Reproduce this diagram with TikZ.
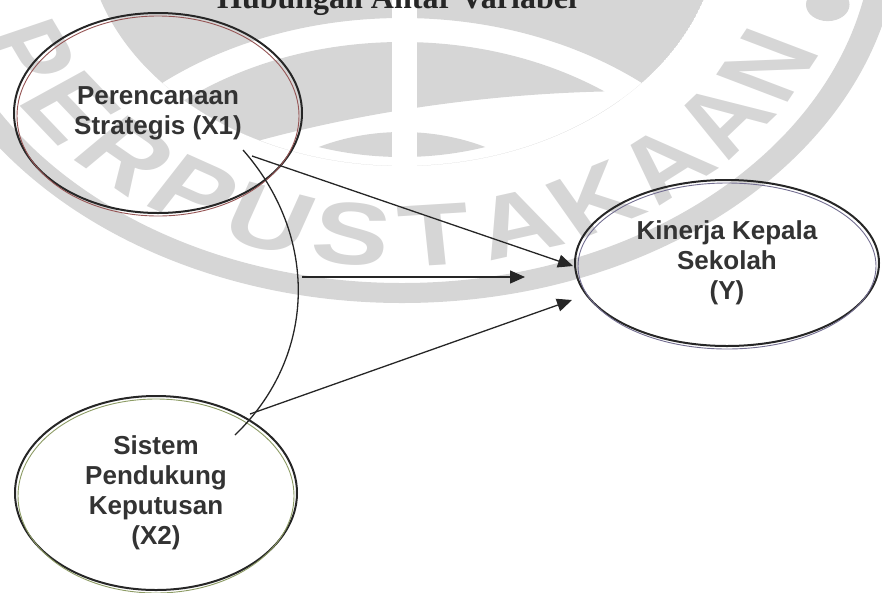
\documentclass[tikz,border=0pt]{standalone}
\usepackage{fontspec}
\setmainfont{Liberation Serif}
\newfontfamily\arialf{Liberation Sans}
\usetikzlibrary{arrows.meta,shapes.geometric}
\definecolor{wm}{RGB}{214,214,214}
\definecolor{ink}{RGB}{38,38,38}
\definecolor{txt}{RGB}{51,51,51}
\definecolor{xonec}{RGB}{150,85,85}
\definecolor{ycol}{RGB}{115,110,145}
\definecolor{xtwoc}{RGB}{140,155,100}
\begin{document}
\begin{tikzpicture}[x=1pt,y=-1pt,
  varell/.style={ellipse, draw=ink, line width=2pt, inner sep=0pt, align=center,
    font=\arialf\bfseries\fontsize{26}{30}\selectfont, text=txt},
  innerring/.style={line width=0.9pt},
  conn/.style={draw=ink, line width=1.3pt, -{Triangle[length=15pt,width=13pt]}},
  link/.style={draw=ink, line width=1.3pt},
  wmletter/.style={font=\arialf\bfseries\fontsize{88}{88}\selectfont, text=wm, inner sep=0pt, transform shape},
  titlestyle/.style={font=\bfseries\fontsize{32}{36}\selectfont, text=ink, inner sep=0pt}]
\useasboundingbox (0,0) rectangle (882,592);
% ---------- watermark ----------
\begin{scope}
\clip (0,0) rectangle (882,592);
\begin{scope}[shift={(402,-74)}, xscale=1.32]
  \fill[wm, even odd rule] (0,0) circle (377) (0,0) circle (357);
  \begin{scope}
    \clip (0,0) circle (240);
    \fill[wm, even odd rule] (0,0) circle (240) (0,378.5) circle (286.5);
    \begin{scope}
      \clip (0,378.5) circle (262.5);
      \fill[wm, even odd rule] (0,0) circle (240) (181.5,1033) circle (868);
    \end{scope}
    \begin{scope}
      \clip (0,345.8) circle (139.8);
      \fill[wm] (0,27.5) circle (203.5);
    \end{scope}
  \end{scope}
  \foreach \ch/\ang [count=\i] in {P/155.8,E/144.1,R/132.3,P/120.6,U/108.8,S/97.1,T/85.4,A/73.6,K/61.9,A/50.2,A/38.4,N/26.7}
    \node[wmletter, rotate=90-\ang] (wm\i) at (\ang:310) {\ch};
  \fill[wm] (13.7:332) circle (16.5);
\end{scope}
\fill[white] (392,-5) rectangle (417,168);
\end{scope}
% ---------- title ----------
\node[titlestyle, anchor=base] (title) at (397,8) {Hubungan Antar Variabel};
% ---------- variables ----------
\node[varell, minimum width=288pt, minimum height=200pt] (x1) at (158,113) {Perencanaan\\Strategis (X1)};
\draw[xonec, innerring] (158,116) ellipse [x radius=141, y radius=100];
\node[varell, minimum width=304pt, minimum height=166pt] (y) at (727,263) {Kinerja Kepala\\Sekolah\\(Y)};
\draw[ycol, innerring] (727,266) ellipse [x radius=149, y radius=83];
\node[varell, minimum width=282pt, minimum height=194pt] (x2) at (156,493) {Sistem\\Pendukung\\Keputusan\\(X2)};
\draw[xtwoc, innerring] (156,496) ellipse [x radius=138, y radius=97];
% ---------- connectors ----------
\coordinate (s1) at (252,156);
\coordinate (e1) at (573,266);
\coordinate (s2) at (302,277);
\coordinate (e2) at (525,277);
\coordinate (s3) at (250,414);
\coordinate (e3) at (572,300);
\coordinate (c1) at (243,150);
\coordinate (c2) at (235,435);
\draw[conn] (s1) -- (e1);
\draw[conn] (s2) -- (e2);
\draw[conn] (s3) -- (e3);
\draw[link] (c1) .. controls (318,235) and (318,355) .. (c2);
\end{tikzpicture}
\end{document}
